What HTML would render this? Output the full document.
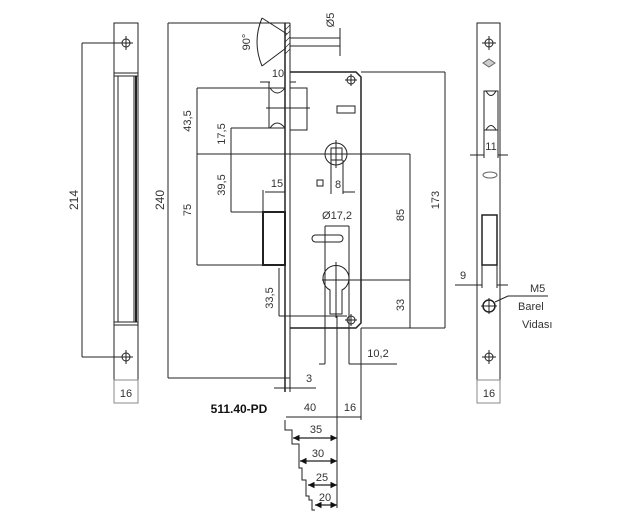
<!DOCTYPE html><html><head><style>body{margin:0;background:#fff}svg{display:block}text{font-family:"Liberation Sans",sans-serif;fill:#333}</style></head><body>
<svg width="625" height="516" viewBox="0 0 625 516" xmlns="http://www.w3.org/2000/svg" stroke="#222" fill="none" stroke-width="1">
<defs><marker id="a" viewBox="0 0 10 10" refX="10" refY="5" markerWidth="7" markerHeight="5" orient="auto-start-reverse"><path d="M0 0L10 5L0 10z" fill="#111" stroke="none"/></marker></defs>
<!-- left plate -->
<rect x="114" y="23" width="24" height="357"/>
<rect x="114" y="380" width="24" height="23" stroke="#888"/>
<line x1="114" y1="73" x2="138" y2="73"/><line x1="114" y1="76" x2="138" y2="76"/>
<line x1="114" y1="322" x2="138" y2="322"/><line x1="114" y1="325" x2="138" y2="325"/>
<rect x="118" y="76" width="16" height="246"/><line x1="136" y1="76" x2="136" y2="322" stroke-width="2"/>
<circle cx="126" cy="43" r="4"/><line x1="126" y1="36" x2="126" y2="50"/><line x1="119" y1="43" x2="133" y2="43"/>
<circle cx="126" cy="357" r="4"/><line x1="126" y1="350" x2="126" y2="364"/><line x1="119" y1="357" x2="133" y2="357"/>
<line x1="82" y1="43" x2="126" y2="43"/><line x1="82" y1="357" x2="126" y2="357"/><line x1="82" y1="43" x2="82" y2="357"/>
<text x="78" y="200" font-size="12" transform="rotate(-90 78 200)" text-anchor="middle" stroke="none">214</text>
<text x="126" y="397" font-size="11" text-anchor="middle" stroke="none">16</text>
<!-- 240 -->
<line x1="168" y1="23" x2="285" y2="23"/><line x1="168" y1="378" x2="290" y2="378"/><line x1="168" y1="23" x2="168" y2="378"/>
<text x="164" y="200" font-size="12" transform="rotate(-90 164 200)" text-anchor="middle" stroke="none">240</text>
<!-- faceplate -->
<line x1="285" y1="23" x2="285" y2="392" stroke-width="1.5"/><line x1="290" y1="23" x2="290" y2="392"/>
<line x1="285" y1="23" x2="290" y2="23"/>
<path d="M285 30l5-5M285 36l5-5M285 42l5-5M285 48l5-5M285 54l5-5" stroke-width="0.7"/>
<path d="M262 18L287 34M262 66L286 48M262 18Q252 42 262 66"/>
<text x="250" y="42" font-size="11" transform="rotate(-90 250 42)" text-anchor="middle" stroke="none">90°</text>
<line x1="290" y1="38" x2="340" y2="38"/><line x1="290" y1="46" x2="340" y2="46"/><line x1="340" y1="28" x2="340" y2="56"/>
<text x="334" y="20" font-size="11" transform="rotate(-90 334 20)" text-anchor="middle" stroke="none">Ø5</text>
<text x="278" y="77" font-size="11" text-anchor="middle" stroke="none">10</text>
<line x1="260" y1="82" x2="270" y2="82"/><line x1="290" y1="82" x2="296" y2="82"/>
<!-- body -->
<path d="M290 72H356L361 77V323L356 328H290" stroke-width="1.5"/>
<line x1="361" y1="72" x2="445" y2="72"/><line x1="361" y1="328" x2="445" y2="328"/>
<circle cx="351" cy="80" r="4"/><line x1="351" y1="74" x2="351" y2="86"/><line x1="345" y1="80" x2="357" y2="80"/>
<circle cx="351" cy="320" r="4"/><line x1="351" y1="314" x2="351" y2="326"/><line x1="345" y1="320" x2="357" y2="320"/>
<!-- latch -->
<rect x="290" y="88" width="17" height="42"/><line x1="266" y1="108" x2="310" y2="108"/>
<path d="M270 88Q277 98 285 88M270 128Q277 118 285 128"/><line x1="269" y1="82" x2="269" y2="128"/>
<line x1="197" y1="88" x2="285" y2="88"/><line x1="231" y1="128" x2="285" y2="128"/>
<rect x="337" y="106" width="18" height="7"/>
<!-- spindle -->
<circle cx="336" cy="154" r="11"/><rect x="331" y="148" width="11" height="12"/><line x1="336" y1="140" x2="336" y2="168"/>
<line x1="197" y1="154" x2="410" y2="154"/>
<rect x="317" y="180" width="6" height="6"/>
<line x1="331" y1="160" x2="331" y2="194"/><line x1="343" y1="160" x2="343" y2="194"/><line x1="343" y1="192" x2="355" y2="192"/>
<text x="338" y="188" font-size="11" text-anchor="middle" stroke="none">8</text>
<!-- deadbolt -->
<rect x="263" y="212" width="22" height="53" stroke-width="2"/>
<line x1="231" y1="212" x2="263" y2="212"/><line x1="197" y1="265" x2="263" y2="265"/>
<line x1="265" y1="192" x2="285" y2="192"/><line x1="263" y1="190" x2="263" y2="212"/>
<text x="277" y="187" font-size="11" text-anchor="middle" stroke="none">15</text>
<!-- oval and cylinder -->
<text x="337" y="219" font-size="11" text-anchor="middle" stroke="none">Ø17,2</text>
<line x1="325" y1="226" x2="349" y2="226"/>
<line x1="325" y1="226" x2="325" y2="364"/><line x1="349" y1="226" x2="349" y2="364"/>
<rect x="312" y="235" width="31" height="7" rx="3.5"/>
<path d="M330 314V290A13 13 0 1 1 342 290V314Z"/>
<line x1="322" y1="280" x2="410" y2="280"/><line x1="336" y1="262" x2="336" y2="318"/>
<line x1="279" y1="316" x2="347" y2="316"/>
<line x1="279" y1="268" x2="279" y2="316"/>
<text x="273" y="298" font-size="11" transform="rotate(-90 273 298)" text-anchor="middle" stroke="none">33,5</text>
<line x1="319" y1="364" x2="325" y2="364"/><line x1="349" y1="364" x2="397" y2="364"/>
<text x="378" y="357" font-size="11" text-anchor="middle" stroke="none">10,2</text>
<line x1="274" y1="388" x2="316" y2="388"/>
<text x="309" y="382" font-size="11" text-anchor="middle" stroke="none">3</text>
<!-- left dims -->
<line x1="197" y1="88" x2="197" y2="265"/><line x1="231" y1="128" x2="231" y2="212"/>
<text x="191" y="121" font-size="11" transform="rotate(-90 191 121)" text-anchor="middle" stroke="none">43,5</text>
<text x="225" y="134" font-size="11" transform="rotate(-90 225 134)" text-anchor="middle" stroke="none">17,5</text>
<text x="225" y="185" font-size="11" transform="rotate(-90 225 185)" text-anchor="middle" stroke="none">39,5</text>
<text x="191" y="210" font-size="11" transform="rotate(-90 191 210)" text-anchor="middle" stroke="none">75</text>
<!-- right dims -->
<line x1="410" y1="154" x2="410" y2="328"/><line x1="445" y1="72" x2="445" y2="328"/>
<text x="404" y="215" font-size="11" transform="rotate(-90 404 215)" text-anchor="middle" stroke="none">85</text>
<text x="404" y="305" font-size="11" transform="rotate(-90 404 305)" text-anchor="middle" stroke="none">33</text>
<text x="439" y="200" font-size="11" transform="rotate(-90 439 200)" text-anchor="middle" stroke="none">173</text>
<!-- bottom -->
<text x="239" y="413" font-size="12" font-weight="bold" text-anchor="middle" stroke="none" style="fill:#111">511.40-PD</text>
<line x1="361" y1="328" x2="361" y2="420"/><line x1="337" y1="316" x2="337" y2="508"/>
<line x1="286" y1="417" x2="361" y2="417"/>
<text x="310" y="411" font-size="11" text-anchor="middle" stroke="none">40</text>
<text x="350" y="411" font-size="11" text-anchor="middle" stroke="none">16</text>
<path d="M285 420V430H292V444H299V468H302V480H306V496H309V500H312V510H315"/>
<g stroke-width="1.3">
<line x1="293" y1="438" x2="337" y2="438" marker-start="url(#a)" marker-end="url(#a)"/><line x1="300" y1="461" x2="337" y2="461" marker-start="url(#a)" marker-end="url(#a)"/><line x1="308" y1="485" x2="337" y2="485" marker-start="url(#a)" marker-end="url(#a)"/><line x1="315" y1="505" x2="337" y2="505" marker-start="url(#a)" marker-end="url(#a)"/></g>
<text x="316" y="433" font-size="11" text-anchor="middle" stroke="none">35</text>
<text x="318" y="457" font-size="11" text-anchor="middle" stroke="none">30</text>
<text x="322" y="481" font-size="11" text-anchor="middle" stroke="none">25</text>
<text x="325" y="501" font-size="11" text-anchor="middle" stroke="none">20</text>
<!-- right plate -->
<rect x="477" y="23" width="23" height="357"/>
<rect x="477" y="380" width="23" height="23" stroke="#888"/>
<circle cx="489" cy="43" r="4"/><line x1="489" y1="36" x2="489" y2="50"/><line x1="482" y1="43" x2="496" y2="43"/>
<circle cx="489" cy="357" r="4"/><line x1="489" y1="350" x2="489" y2="364"/><line x1="482" y1="357" x2="496" y2="357"/>
<path d="M489 59l6 4-6 4-6-4z" stroke="#666" fill="#ccc"/>
<path d="M484 91H498V130H484ZM486 91Q491 100 496 91M486 130Q491 121 496 130"/>
<line x1="484" y1="130" x2="484" y2="158"/><line x1="498" y1="130" x2="498" y2="158"/>
<line x1="470" y1="155" x2="484" y2="155"/><line x1="498" y1="155" x2="508" y2="155"/>
<text x="491" y="150" font-size="11" text-anchor="middle" stroke="none">11</text>
<ellipse cx="490" cy="175" rx="7" ry="3" stroke="#666"/>
<rect x="482" y="215" width="15" height="50" stroke-width="1.5"/>
<line x1="482" y1="265" x2="482" y2="288"/><line x1="497" y1="265" x2="497" y2="288"/>
<line x1="455" y1="285" x2="482" y2="285"/><line x1="497" y1="285" x2="508" y2="285"/>
<text x="463" y="279" font-size="11" text-anchor="middle" stroke="none">9</text>
<circle cx="489" cy="306" r="6" stroke-width="1.5"/><line x1="489" y1="298" x2="489" y2="314"/><line x1="481" y1="306" x2="497" y2="306"/>
<path d="M495 302L508 296H548"/>
<text x="530" y="292" font-size="11" stroke="none">M5</text>
<text x="518" y="310" font-size="11" stroke="none">Barel</text>
<text x="522" y="328" font-size="11" stroke="none">Vidası</text>
<text x="489" y="397" font-size="11" text-anchor="middle" stroke="none">16</text>
</svg></body></html>
